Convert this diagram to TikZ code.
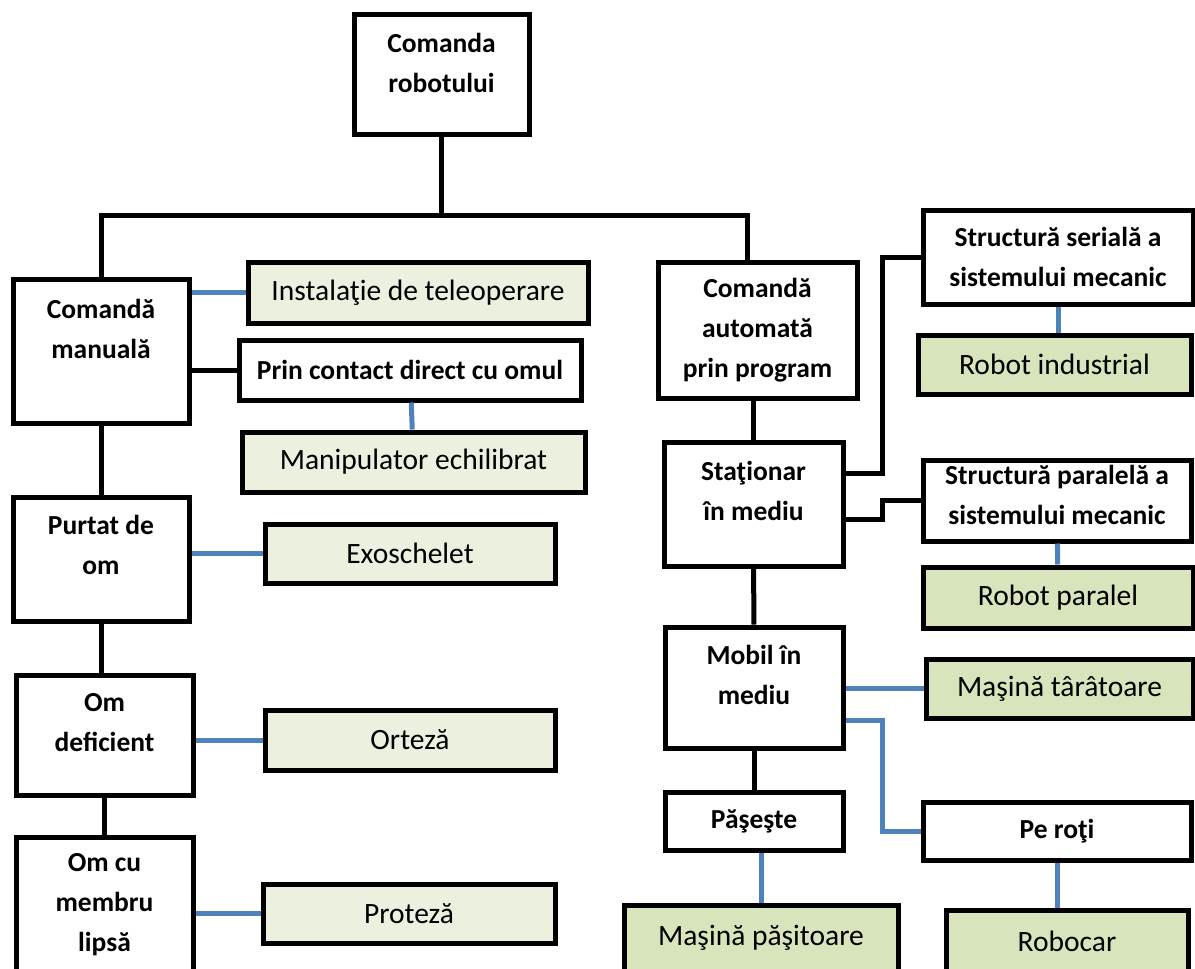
\documentclass[tikz,border=0pt]{standalone}
\usepackage{fontspec}
\setmainfont{Carlito}
\usepackage{tikz}
\definecolor{lightgreen}{HTML}{EBF1DE}
\definecolor{olivegreen}{HTML}{D7E4BC}
\definecolor{linkblue}{HTML}{4F81BD}
% extra depth under the last line, pushes the text up in its box
\newcommand{\lift}[1]{\rule[-#1]{0pt}{0pt}}

\begin{document}
\begin{tikzpicture}[x=1pt, y=-1pt,
    box/.style={draw, line width=5pt, fill=white, align=center, inner sep=0pt,
      font=\fontsize{27.5}{40}\selectfont\bfseries},
    leaf/.style={draw, line width=5pt, align=center, inner sep=0pt,
      font=\fontsize{29.5}{40}\selectfont},
    conn/.style={line width=5pt},
    link/.style={line width=5pt, linkblue}]
  \useasboundingbox (0,0) rectangle (1195,969);

  % root
  \node[box, minimum width=175pt, minimum height=120pt] (root) at (441.5,74) {Comanda\\robotului\lift{23pt}};

  % manual branch
  \node[box, minimum width=176pt, minimum height=144pt] (man) at (101,351) {Comandă\\manuală\lift{44pt}};
  \node[box, minimum width=176pt, minimum height=124pt] (purt) at (101,559) {Purtat de\\om\lift{28pt}};
  \node[box, minimum width=177pt, minimum height=120pt] (defi) at (104.5,735) {Om\\deficient\lift{26pt}};
  \node[box, minimum width=177pt, minimum height=136pt] (memb) at (104.5,905) {Om cu\\membru\\lipsă};
  \node[box, minimum width=342pt, minimum height=60pt] (prin) at (410,370) {Prin contact direct cu omul};

  \node[leaf, fill=lightgreen, minimum width=340pt, minimum height=61pt] (inst) at (418,292.5) {Instalaţie de teleoperare};
  \node[leaf, fill=lightgreen, minimum width=343pt, minimum height=60pt] (manip) at (413.5,462) {Manipulator echilibrat};
  \node[leaf, fill=lightgreen, minimum width=290pt, minimum height=59pt] (exo) at (410,553.5) {Exoschelet};
  \node[leaf, fill=lightgreen, minimum width=290pt, minimum height=60pt] (ort) at (410,740) {Orteză};
  \node[leaf, fill=lightgreen, minimum width=292pt, minimum height=59pt] (prot) at (409,913.5) {Proteză};

  % automatic branch
  \node[box, minimum width=199pt, minimum height=136pt] (auto) at (757.5,330) {Comandă\\automată\\prin program};
  \node[box, minimum width=179pt, minimum height=124pt] (stat) at (753.5,504) {Staţionar\\în mediu\lift{27pt}};
  \node[box, minimum width=178pt, minimum height=121pt] (mob) at (754,687.5) {Mobil în\\mediu\lift{26pt}};
  \node[box, minimum width=178pt, minimum height=58pt] (pas) at (754,821) {Păşeşte};
  \node[box, minimum width=270pt, minimum height=94pt] (ser) at (1058,257) {Structură serială a\\sistemului mecanic};
  \node[box, minimum width=268pt, minimum height=81pt] (par) at (1057,500.5) {Structură paralelă a\\sistemului mecanic\lift{12pt}};
  \node[box, minimum width=268pt, minimum height=58pt] (roti) at (1057,831) {Pe roţi};

  \node[leaf, fill=olivegreen, minimum width=273pt, minimum height=59pt] (rind) at (1054.5,364.5) {Robot industrial};
  \node[leaf, fill=olivegreen, minimum width=270pt, minimum height=61pt] (rpar) at (1058,597.5) {Robot paralel};
  \node[leaf, fill=olivegreen, minimum width=267pt, minimum height=59pt] (tar) at (1059.5,688.5) {Maşină târâtoare};
  \node[leaf, fill=olivegreen, minimum width=274pt, minimum height=66pt] (pmas) at (761,938) {Maşină păşitoare};
  \node[leaf, fill=olivegreen, minimum width=242pt, minimum height=63pt] (robo) at (1067,941.5) {Robocar};

  % black connectors
  \coordinate (busR) at (747,215);
  \draw[conn] (root) -- (root |- busR);
  \draw[conn] (man.north) |- (busR) -- (busR |- auto.north);
  \draw[conn] (man) -- (purt);
  \draw[conn] (purt.south) -- (purt.south |- defi.north);
  \draw[conn] (defi) -- (memb);
  \draw[conn] (prin.west) -- (prin.west -| man.east);
  \draw[conn] (stat.north) -- (stat.north |- auto.south);
  \draw[conn] (stat) -- (mob);
  \draw[conn] (mob) -- (pas);
  \draw[conn] (stat.east) ++(0,-31) -- ++(37,0) |- (ser.west);
  \draw[conn] (stat.east) ++(0,15) -- ++(37,0) |- (par.west);

  % blue connectors
  \draw[link] (inst.west) -- (inst.west -| man.east);
  \draw[link] (prin) -- (manip);
  \draw[link] (exo.west) -- (exo.west -| purt.east);
  \draw[link] (ort.west) -- (ort.west -| defi.east);
  \draw[link] (prot.west) -- (prot.west -| memb.east);
  \draw[link] (ser.south) -- (ser.south |- rind.north);
  \draw[link] (par) -- (rpar);
  \draw[link] (tar.west) -- (tar.west -| mob.east);
  \draw[link] (mob.east) ++(0,33) -- ++(37,0) |- (roti.west);
  \draw[link] (pmas.north) -- (pmas.north |- pas.south);
  \draw[link] (roti.south) -- (roti.south |- robo.north);
\end{tikzpicture}
\end{document}
